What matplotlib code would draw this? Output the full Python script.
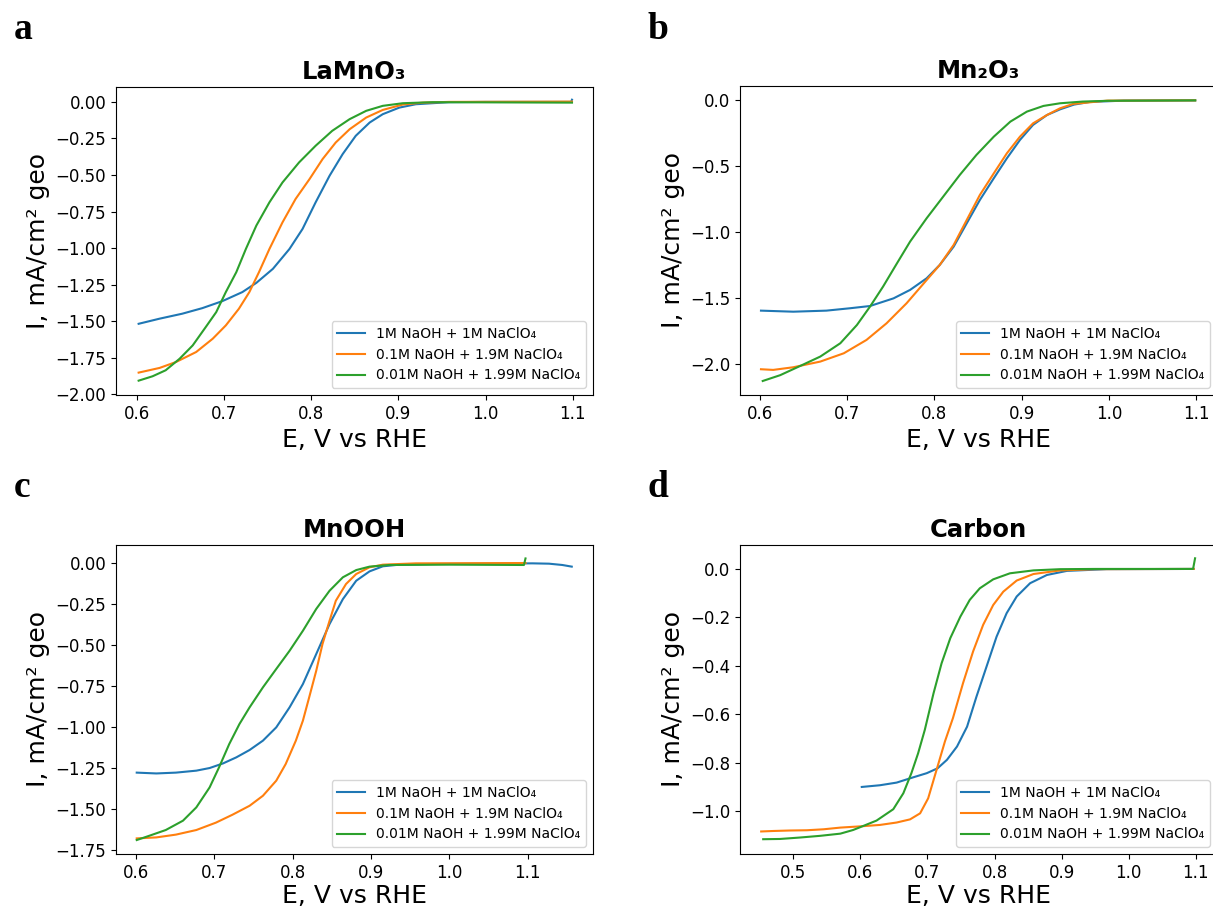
import numpy as np
import matplotlib
matplotlib.use('Agg')
import matplotlib.pyplot as plt

# legend labels, same for all four panels
labels = ['1M NaOH + 1M NaClO₄', '0.1M NaOH + 1.9M NaClO₄', '0.01M NaOH + 1.99M NaClO₄']

# a - LaMnO3
a_e_1 = [0.602, 0.626, 0.652, 0.675, 0.698, 0.721, 0.737, 0.756, 0.775, 0.790, 0.805, 0.821,
         0.836, 0.851, 0.867, 0.882, 0.901, 0.920, 0.958, 1.000, 1.050, 1.098, 1.099]
a_i_1 = [-1.518, -1.483, -1.449, -1.411, -1.363, -1.301, -1.238, -1.142, -1.006, -0.869, -0.687, -0.505,
         -0.357, -0.232, -0.141, -0.084, -0.039, -0.016, -0.002, 0.0, 0.0, 0.0, 0.015]
a_e_2 = [0.602, 0.626, 0.645, 0.668, 0.687, 0.702, 0.717, 0.729, 0.740, 0.752, 0.767, 0.782,
         0.798, 0.813, 0.828, 0.844, 0.863, 0.882, 0.905, 0.928, 0.958, 1.099]
a_i_2 = [-1.852, -1.820, -1.779, -1.711, -1.620, -1.529, -1.415, -1.301, -1.165, -1.006, -0.824, -0.664,
         -0.528, -0.391, -0.278, -0.187, -0.107, -0.055, -0.018, -0.005, 0.0, 0.002]
a_e_3 = [0.602, 0.618, 0.633, 0.649, 0.664, 0.679, 0.691, 0.702, 0.714, 0.725, 0.737, 0.752,
         0.767, 0.786, 0.805, 0.824, 0.844, 0.863, 0.882, 0.905, 0.939, 1.099]
a_i_3 = [-1.907, -1.877, -1.836, -1.757, -1.666, -1.540, -1.438, -1.301, -1.165, -1.006, -0.846, -0.687,
         -0.551, -0.414, -0.300, -0.198, -0.118, -0.061, -0.027, -0.009, -0.002, -0.005]

# b - Mn2O3
b_e_1 = [0.601, 0.638, 0.676, 0.703, 0.726, 0.753, 0.772, 0.791, 0.806, 0.822, 0.837, 0.852,
         0.868, 0.883, 0.898, 0.913, 0.929, 0.944, 0.960, 0.978, 1.017, 1.099]
b_i_1 = [-1.596, -1.604, -1.596, -1.578, -1.561, -1.503, -1.439, -1.351, -1.250, -1.111, -0.934, -0.758,
         -0.593, -0.442, -0.303, -0.189, -0.114, -0.071, -0.035, -0.015, -0.005, -0.003]
b_e_2 = [0.601, 0.615, 0.638, 0.669, 0.696, 0.722, 0.745, 0.768, 0.791, 0.806, 0.822, 0.837,
         0.852, 0.868, 0.883, 0.898, 0.913, 0.929, 0.944, 0.959, 0.998, 1.099]
b_i_2 = [-2.040, -2.045, -2.025, -1.982, -1.919, -1.818, -1.692, -1.540, -1.364, -1.250, -1.098, -0.909,
         -0.720, -0.556, -0.404, -0.278, -0.177, -0.114, -0.063, -0.030, -0.005, -0.003]
b_e_3 = [0.603, 0.623, 0.646, 0.669, 0.692, 0.711, 0.726, 0.741, 0.757, 0.772, 0.791, 0.810,
         0.829, 0.848, 0.868, 0.887, 0.906, 0.925, 0.944, 0.970, 1.000, 1.099]
b_i_3 = [-2.129, -2.085, -2.015, -1.944, -1.843, -1.705, -1.566, -1.414, -1.237, -1.073, -0.896, -0.732,
         -0.568, -0.417, -0.278, -0.164, -0.088, -0.045, -0.025, -0.012, -0.006, -0.003]

# c - MnOOH
c_e_1 = [0.601, 0.626, 0.651, 0.677, 0.694, 0.711, 0.728, 0.745, 0.762, 0.779, 0.796, 0.813, 0.830,
         0.847, 0.864, 0.881, 0.898, 0.915, 0.936, 0.978, 1.042, 1.106, 1.127, 1.144, 1.156]
c_i_1 = [-1.278, -1.283, -1.278, -1.266, -1.250, -1.222, -1.185, -1.140, -1.083, -1.002, -0.880, -0.738, -0.555,
         -0.372, -0.220, -0.108, -0.051, -0.020, -0.010, -0.006, -0.004, -0.002, -0.004, -0.012, -0.022]
c_e_2 = [0.601, 0.626, 0.651, 0.677, 0.702, 0.723, 0.745, 0.762, 0.779, 0.791, 0.804, 0.813,
         0.821, 0.830, 0.838, 0.847, 0.855, 0.868, 0.881, 0.898, 0.915, 0.957, 1.097]
c_i_2 = [-1.679, -1.673, -1.656, -1.628, -1.583, -1.535, -1.480, -1.419, -1.327, -1.226, -1.083, -0.961,
         -0.819, -0.657, -0.494, -0.352, -0.230, -0.128, -0.067, -0.026, -0.010, -0.002, 0.0]
c_e_3 = [0.601, 0.617, 0.638, 0.660, 0.677, 0.694, 0.706, 0.719, 0.732, 0.745, 0.762, 0.779,
         0.796, 0.813, 0.830, 0.847, 0.864, 0.881, 0.898, 0.923, 1.000, 1.095, 1.097]
c_i_3 = [-1.689, -1.663, -1.628, -1.571, -1.490, -1.368, -1.246, -1.104, -0.982, -0.880, -0.758, -0.646,
         -0.535, -0.413, -0.280, -0.169, -0.087, -0.043, -0.022, -0.012, -0.010, -0.012, 0.028]

# d - Carbon
d_e_1 = [0.602, 0.629, 0.654, 0.679, 0.699, 0.715, 0.729, 0.744, 0.759, 0.773, 0.788, 0.803,
         0.818, 0.833, 0.853, 0.878, 0.908, 0.967, 1.097]
d_i_1 = [-0.901, -0.894, -0.883, -0.861, -0.844, -0.824, -0.789, -0.734, -0.652, -0.528, -0.404, -0.280,
         -0.183, -0.114, -0.059, -0.025, -0.008, -0.001, 0.0]
d_e_2 = [0.452, 0.470, 0.495, 0.520, 0.545, 0.570, 0.599, 0.629, 0.654, 0.674, 0.689, 0.701, 0.714,
         0.726, 0.738, 0.753, 0.768, 0.783, 0.798, 0.813, 0.833, 0.858, 0.898, 0.950, 1.097]
d_i_2 = [-1.085, -1.083, -1.081, -1.080, -1.076, -1.069, -1.064, -1.058, -1.048, -1.035, -1.010, -0.948, -0.826,
         -0.713, -0.616, -0.472, -0.341, -0.231, -0.149, -0.094, -0.048, -0.021, -0.006, -0.001, 0.0]
d_e_3 = [0.455, 0.480, 0.510, 0.540, 0.570, 0.589, 0.599, 0.624, 0.649, 0.664, 0.676, 0.686, 0.696,
         0.709, 0.721, 0.734, 0.749, 0.763, 0.778, 0.798, 0.823, 0.858, 0.898, 0.950, 1.096, 1.099]
d_i_3 = [-1.117, -1.116, -1.110, -1.103, -1.094, -1.079, -1.068, -1.040, -0.993, -0.927, -0.844, -0.762, -0.665,
         -0.514, -0.390, -0.286, -0.197, -0.128, -0.080, -0.043, -0.018, -0.006, -0.001, 0.0, 0.0, 0.044]

fig = plt.figure(figsize=(12.13, 9.08), dpi=100)


def panel(rect, title, letter, letter_xy, series, xlim, ylim, yticks, xticks, xpad=4):
    ax = fig.add_axes(rect)
    for k, (e, i) in enumerate(series):
        ax.plot(e, i, color='C%d' % k, linewidth=1.5, label=labels[k])
    ax.set_xlim(xlim)
    ax.set_ylim(ylim)
    ax.set_xticks(xticks)
    ax.set_yticks(yticks)
    ax.tick_params(labelsize=12)
    ax.set_title(title, fontsize=17.5, fontweight='bold')
    ax.set_xlabel('E, V vs RHE', fontsize=18, labelpad=xpad)
    ax.set_ylabel('I, mA/cm² geo', fontsize=18)
    ax.legend(loc='lower right', fontsize=10)
    fig.text(letter_xy[0], letter_xy[1], letter, fontsize=27, fontweight='bold',
             family='Liberation Serif', va='baseline', ha='left')
    return ax


panel([0.0956, 0.565, 0.3932, 0.3392], 'LaMnO₃', 'a', (0.011, 0.957),
      [(a_e_1, a_i_1), (a_e_2, a_i_2), (a_e_3, a_i_3)],
      (0.576, 1.123), (-2.005, 0.102), np.arange(-2.0, 0.01, 0.25), np.arange(0.6, 1.11, 0.1))

panel([0.6101, 0.565, 0.3932, 0.3403], 'Mn₂O₃', 'b', (0.534, 0.957),
      [(b_e_1, b_i_1), (b_e_2, b_i_2), (b_e_3, b_i_3)],
      (0.577, 1.124), (-2.235, 0.106), np.arange(-2.0, 0.01, 0.5), np.arange(0.6, 1.11, 0.1))

panel([0.0956, 0.0595, 0.3932, 0.3403], 'MnOOH', 'c', (0.011, 0.4526),
      [(c_e_1, c_i_1), (c_e_2, c_i_2), (c_e_3, c_i_3)],
      (0.5745, 1.183), (-1.774, 0.110), np.arange(-1.75, 0.01, 0.25), np.arange(0.6, 1.11, 0.1),
      xpad=2)

panel([0.6101, 0.0595, 0.3932, 0.3403], 'Carbon', 'd', (0.534, 0.4526),
      [(d_e_1, d_i_1), (d_e_2, d_i_2), (d_e_3, d_i_3)],
      (0.4205, 1.1317), (-1.178, 0.099), np.arange(-1.0, 0.01, 0.2), np.arange(0.5, 1.11, 0.1),
      xpad=2)

fig.savefig('out.png', dpi=100)
